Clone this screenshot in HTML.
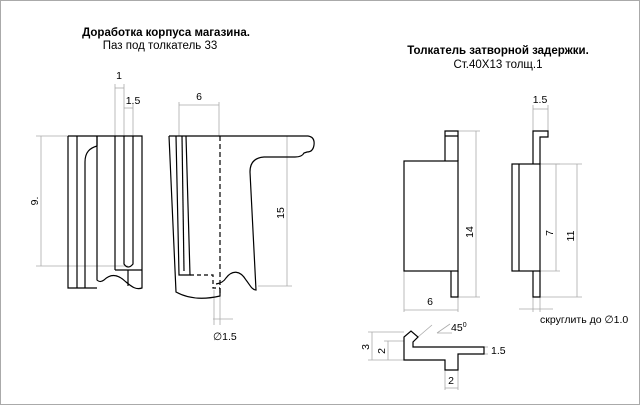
<!DOCTYPE html>
<html><head><meta charset="utf-8"><style>
html,body{margin:0;padding:0;background:#fff}
svg{display:block}
text{font-family:"Liberation Sans",sans-serif;fill:#000}
</style></head><body>
<svg width="640" height="405" viewBox="0 0 640 405" xmlns="http://www.w3.org/2000/svg">
<rect x="0.5" y="0.5" width="639" height="404" fill="#fff" stroke="#aaa"/>
<text x="166" y="36" font-size="11.5" font-weight="bold" text-anchor="middle">Доработка корпуса магазина.</text>
<text x="160" y="49" font-size="11.5" text-anchor="middle">Паз под толкатель 33</text>
<text x="498" y="54" font-size="11.5" font-weight="bold" text-anchor="middle">Толкатель затворной задержки.</text>
<text x="498" y="68" font-size="11.5" text-anchor="middle">Ст.40Х13 толщ.1</text>

<g stroke="#aaa" stroke-width="0.8" fill="none">
<line x1="36" y1="136" x2="68" y2="136"/><line x1="36" y1="266" x2="128" y2="266"/>
<line x1="41" y1="136" x2="41" y2="266"/>
<line x1="115" y1="84" x2="115" y2="136"/><line x1="124" y1="84" x2="124" y2="136"/>
<line x1="115" y1="88" x2="124" y2="88"/>
<line x1="133" y1="104" x2="133" y2="136"/><line x1="124" y1="108" x2="133" y2="108"/>
<line x1="179" y1="102" x2="179" y2="136"/><line x1="219" y1="102" x2="219" y2="136"/>
<line x1="179" y1="105" x2="219" y2="105"/>
<line x1="258" y1="286" x2="292" y2="286"/><line x1="287" y1="136" x2="287" y2="286"/>
<line x1="213" y1="319" x2="233" y2="319"/><line x1="214" y1="290" x2="214" y2="325"/><line x1="220" y1="290" x2="220" y2="325"/>
<line x1="458" y1="131" x2="480" y2="131"/><line x1="458" y1="297" x2="480" y2="297"/>
<line x1="476" y1="131" x2="476" y2="297"/>
<line x1="404" y1="271" x2="404" y2="312"/><line x1="458" y1="297" x2="458" y2="312"/>
<line x1="404" y1="310" x2="458" y2="310"/>
<line x1="533" y1="105" x2="533" y2="131"/><line x1="548" y1="105" x2="548" y2="131"/>
<line x1="533" y1="109" x2="548" y2="109"/>
<line x1="540" y1="164" x2="560" y2="164"/><line x1="540" y1="271" x2="560" y2="271"/>
<line x1="556" y1="164" x2="556" y2="271"/>
<line x1="540" y1="164" x2="582" y2="164"/><line x1="540" y1="297" x2="582" y2="297"/>
<line x1="577" y1="164" x2="577" y2="297"/>
<line x1="519" y1="309" x2="553" y2="309"/><line x1="533" y1="297" x2="533" y2="312"/><line x1="540" y1="297" x2="540" y2="312"/>
<line x1="368" y1="332" x2="404" y2="332"/><line x1="368" y1="360" x2="404" y2="360"/>
<line x1="372" y1="332" x2="372" y2="360"/>
<line x1="384" y1="341" x2="404" y2="341"/><line x1="388" y1="341" x2="388" y2="360"/>
<line x1="484" y1="347" x2="488" y2="347"/><line x1="484" y1="354" x2="488" y2="354"/>
<line x1="484" y1="347" x2="484" y2="354"/>
<line x1="445" y1="370" x2="445" y2="390"/><line x1="458" y1="370" x2="458" y2="390"/>
<line x1="445" y1="388" x2="458" y2="388"/>
<line x1="418" y1="337" x2="432" y2="325"/>
<path d="M437 333 L450 324 M437 333 L452 333"/>
</g>

<g font-size="10.5">
<text x="119" y="79" text-anchor="middle">1</text>
<text x="133" y="104" text-anchor="middle">1.5</text>
<text x="199" y="100" text-anchor="middle">6</text>
<text transform="translate(38,201) rotate(-90)" text-anchor="middle">9.</text>
<text transform="translate(284,213) rotate(-90)" text-anchor="middle">15</text>
<text x="213" y="340">∅1.5</text>
<text transform="translate(473,232) rotate(-90)" text-anchor="middle">14</text>
<text x="430" y="305" text-anchor="middle">6</text>
<text x="540" y="103" text-anchor="middle">1.5</text>
<text transform="translate(553,233) rotate(-90)" text-anchor="middle">7</text>
<text transform="translate(574,236) rotate(-90)" text-anchor="middle">11</text>
<text x="540" y="323">скруглить до ∅1.0</text>
<text x="451" y="331">45<tspan font-size="7" dy="-4">0</tspan></text>
<text transform="translate(369,347) rotate(-90)" text-anchor="middle">3</text>
<text transform="translate(385,351) rotate(-90)" text-anchor="middle">2</text>
<text x="491" y="354">1.5</text>
<text x="451" y="384" text-anchor="middle">2</text>
</g>

<g stroke="#000" stroke-width="1.2" fill="none">
<path d="M68 136 H142 V288 C136 290 132 287 126 282 C120 276 112 272 104 280 C100 283 98 281 97 280 V136"/>
<path d="M68 136 V288 H97"/>
<line x1="77" y1="136" x2="77" y2="288"/>
<path d="M85 288 V162 C85 152 90 148 97 146"/>
<line x1="97" y1="146" x2="97" y2="136"/>
<line x1="115" y1="136" x2="115" y2="270"/>
<path d="M124 136 V264 Q128 270 133 264 V136"/>
<path d="M115 270 H142"/>
<line x1="128" y1="270" x2="128" y2="286"/>
<path d="M169 136 H308 Q315 137 314 145 Q313 152 307 152 L304 153 Q302 157 295 157 H264 Q250 158 250 172 L256 290 C252 290 250 285 246 280 C240 270 232 270 226 278 Q223 283 216 284"/>
<path d="M169 136 L176 292 Q194 302 220 296 V288"/>
<path d="M176 136 L179 275 H190 L186 136"/>
<line x1="182" y1="136" x2="184" y2="271"/>
<path d="M190 275 H213 V288 H220" stroke-dasharray="4,3"/>
<line x1="220" y1="136" x2="220" y2="296" stroke-dasharray="5,3"/>
<rect x="404" y="161" width="54" height="110"/>
<path d="M445 161 V131 H458 V161 M445 136 H458"/>
<path d="M451 271 V297 H458 V271"/>
<rect x="512" y="164" width="28" height="107"/>
<line x1="519" y1="164" x2="519" y2="271"/>
<path d="M533 164 V131 H548 V137 H540 V164"/>
<path d="M533 271 V297 H540 V271"/>
<path d="M404 360 V337 L411 331 L418 337 L413 342 V347 H484 V354 H458 V370 H445 V360 Z"/>
</g>
</svg>
</body></html>
